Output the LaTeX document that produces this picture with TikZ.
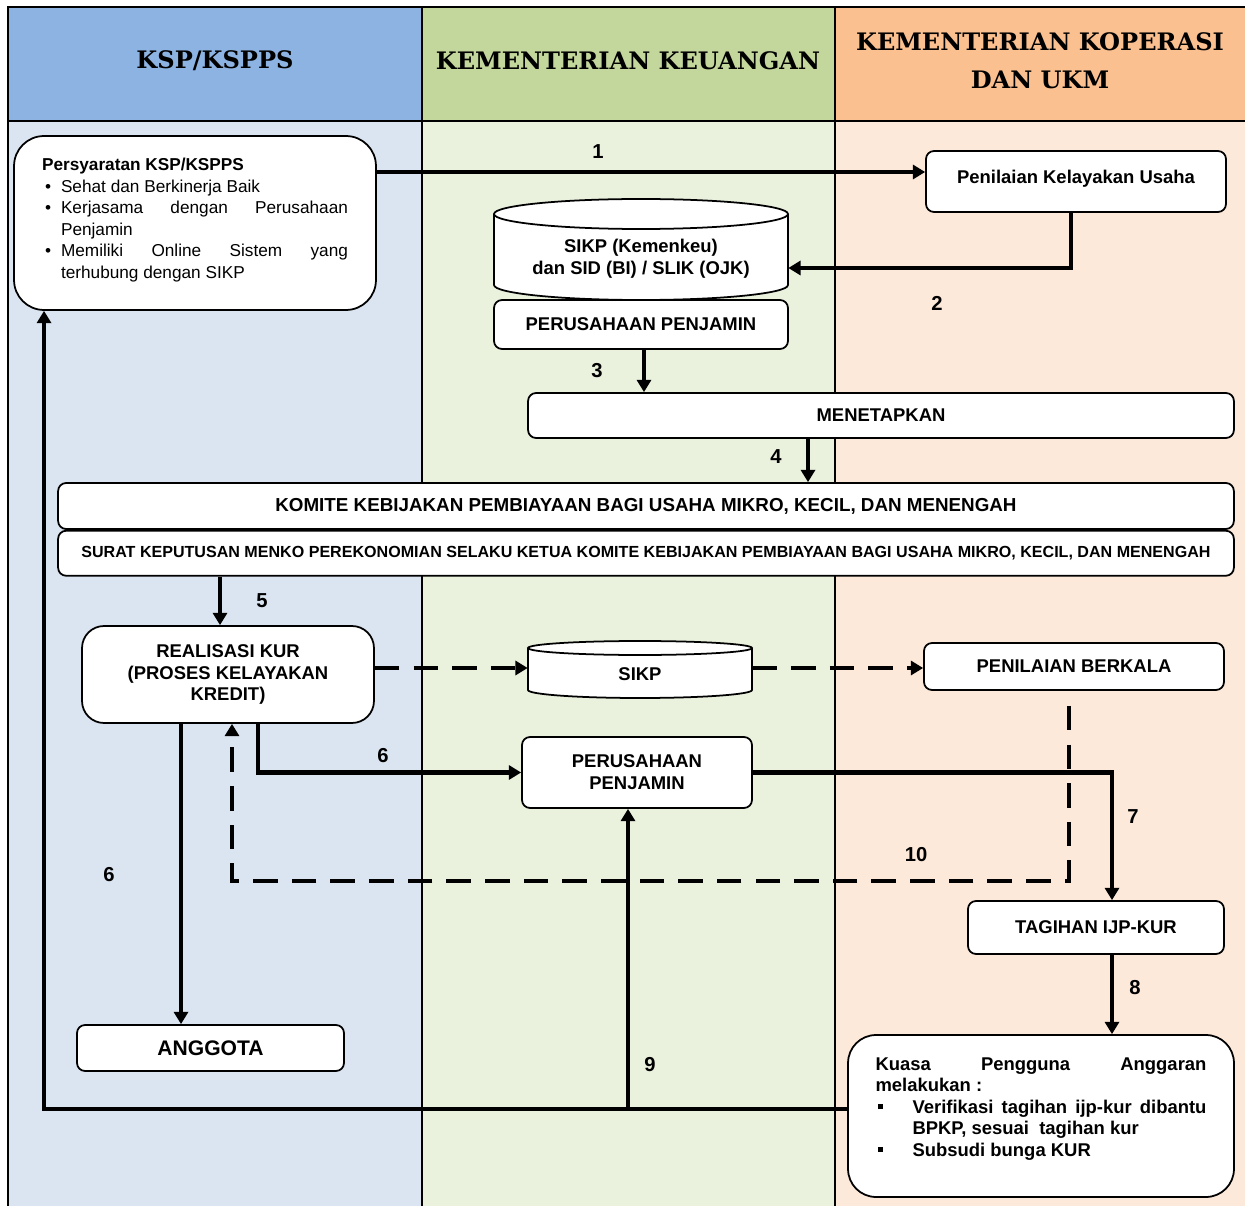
\documentclass[tikz,border=0pt]{standalone}
\usepackage{fontspec}
\setmainfont{Liberation Sans}
\newfontfamily\headfont{DejaVu Serif}
\usetikzlibrary{arrows.meta, positioning, calc}

\definecolor{headblue}{HTML}{8DB3E2}
\definecolor{headgreen}{HTML}{C3D69B}
\definecolor{headorange}{HTML}{FAC090}
\definecolor{laneblue}{HTML}{DBE5F1}
\definecolor{lanegreen}{HTML}{EAF1DD}
\definecolor{laneorange}{HTML}{FDE9D9}

\setlength\parindent{0pt}
\newcommand\reqitem{\hangindent=0.38cm\hangafter=1\noindent\makebox[0.38cm][l]{\hspace{0.06cm}\textbullet}}
\newcommand\kpaitem{\hangindent=0.74cm\hangafter=1\noindent\makebox[0.74cm][l]{\hspace{0.04cm}\rule[0.22em]{0.1cm}{0.1cm}}}

\begin{document}
\begin{tikzpicture}[
        x=0.02cm, y=-0.02cm,
        box/.style={draw, line width=1pt, rounded corners=0.16cm, fill=white, align=center,
            inner sep=2pt, font=\fontsize{10.5}{12.5}\selectfont\bfseries},
        num/.style={font=\fontsize{11.5}{13}\selectfont\bfseries},
        head/.style={align=center, font=\headfont\fontsize{13.7}{21.5}\selectfont\bfseries},
        flow/.style={line width=2.3pt, -{Triangle[length=7pt,width=8pt]}},
        dflow/.style={flow, dash pattern=on 14pt off 8pt}
    ]
    \useasboundingbox (0,0) rectangle (1245,1206);

    % swim lanes
    \fill[headblue] (8,7) rectangle (422,121);
    \fill[headgreen] (422,7) rectangle (835,121);
    \fill[headorange] (835,7) rectangle (1245,121);
    \fill[laneblue] (8,121) rectangle (422,1206);
    \fill[lanegreen] (422,121) rectangle (835,1206);
    \fill[laneorange] (835,121) rectangle (1245,1206);
    \draw[line width=1.5pt] (8,1206) -- (8,7) -- (1245,7);
    \draw[line width=1.5pt] (8,121) -- (1245,121);
    \draw[line width=1pt] (422,7) -- (422,1206);
    \draw[line width=1pt] (835,7) -- (835,1206);

    \node[head] (hksp) at (215,61) {KSP/KSPPS};
    \node[head] (hkeu) at (628,61) {KEMENTERIAN KEUANGAN};
    \node[head] (hkop) at (1040,61) {KEMENTERIAN KOPERASI\\DAN UKM};

    % databases
    \draw[line width=1pt, fill=white] (494,214) -- (494,285)
        arc[start angle=180, end angle=0, x radius=147, y radius=15] -- (788,214);
    \draw[line width=1pt, fill=white] (641,214) ellipse [x radius=147, y radius=15];
    \draw[line width=1pt, fill=white] (528,648) -- (528,690)
        arc[start angle=180, end angle=0, x radius=112, y radius=8] -- (752,648);
    \draw[line width=1pt, fill=white] (640,648) ellipse [x radius=112, y radius=7];

    % boxes
    \node[box, rounded corners=0.6cm, minimum width=7.24cm, minimum height=3.48cm] (req) at (195,223) {};
    \node[text width=6.12cm, align=justify, font=\fontsize{9.8}{12.2}\selectfont] (reqtext) at (195,220) {%
        \textbf{Persyaratan KSP/KSPPS}\par
        \reqitem Sehat dan Berkinerja Baik\par
        \reqitem Kerjasama dengan Perusahaan\linebreak Penjamin\par
        \reqitem Memiliki Online Sistem yang\linebreak terhubung dengan SIKP\par};
    \node[box, minimum width=6cm, minimum height=1.22cm, text depth=0.2cm] (kelayakan) at (1076,181.5) {Penilaian Kelayakan Usaha};
    \node[align=center, font=\fontsize{10.5}{12.5}\selectfont\bfseries, minimum width=5.88cm] (sikpdb) at (641,259) {SIKP (Kemenkeu)\\dan SID (BI) / SLIK (OJK)};
    \node[box, minimum width=5.88cm, minimum height=0.98cm] (pp1) at (641,324.5) {PERUSAHAAN PENJAMIN};
    \node[box, minimum width=14.12cm, minimum height=0.9cm] (menetapkan) at (881,415.5) {MENETAPKAN};
    \node[box, minimum width=23.52cm, minimum height=0.92cm, font=\fontsize{10.7}{12}\selectfont\bfseries] (komite) at (646,506) {KOMITE KEBIJAKAN PEMBIAYAAN BAGI USAHA MIKRO, KECIL, DAN MENENGAH};
    \node[box, minimum width=23.52cm, minimum height=0.9cm, font=\fontsize{9.15}{10}\selectfont\bfseries, below=0pt of komite] (surat) {SURAT KEPUTUSAN MENKO PEREKONOMIAN SELAKU KETUA KOMITE KEBIJAKAN PEMBIAYAAN BAGI USAHA MIKRO, KECIL, DAN MENENGAH};
    \node[box, rounded corners=0.44cm, minimum width=5.84cm, minimum height=1.94cm] (realisasi) at (228,674.5) {REALISASI KUR\\(PROSES KELAYAKAN\\KREDIT)};
    \node[align=center, font=\fontsize{10.5}{12.5}\selectfont\bfseries, minimum width=4.48cm] (sikp) at (640,674) {SIKP};
    \node[box, minimum width=6cm, minimum height=0.94cm] (berkala) at (1074,666.5) {PENILAIAN BERKALA};
    \node[box, minimum width=4.6cm, minimum height=1.42cm] (pp2) at (637,772.5) {PERUSAHAAN\\PENJAMIN};
    \node[box, minimum width=5.12cm, minimum height=1.06cm] (tagihan) at (1096,927.5) {TAGIHAN IJP-KUR};
    \node[box, minimum width=5.34cm, minimum height=0.92cm, font=\fontsize{12}{14}\selectfont\bfseries] (anggota) at (210.5,1048) {ANGGOTA};
    \node[box, rounded corners=0.56cm, minimum width=7.72cm, minimum height=3.24cm] (kuasa) at (1041,1116) {};
    \node[text width=6.62cm, align=justify, font=\fontsize{10.5}{12.2}\selectfont\bfseries] (kuasatext) at (1041,1109) {%
        Kuasa Pengguna Anggaran\linebreak melakukan :\par
        \kpaitem Verifikasi tagihan ijp-kur dibantu\linebreak BPKP, sesuai\ \ tagihan kur\par
        \kpaitem Subsudi bunga KUR\par};

    % connectors
    \coordinate (a1) at ([yshift=0.19cm]kelayakan.west);
    \draw[flow] (req.east |- a1) -- (a1);
    \draw[flow] ([xshift=-0.1cm]kelayakan.south) |- ([yshift=-0.18cm]sikpdb.east);
    \draw[flow] ([xshift=0.06cm]pp1.south) -- ([xshift=0.06cm]pp1.south |- menetapkan.north);
    \draw[flow] ([xshift=-1.46cm]menetapkan.south) -- ([xshift=-1.46cm]menetapkan.south |- komite.north);
    \draw[flow] ([xshift=-0.16cm]realisasi.north |- surat.south) -- ([xshift=-0.16cm]realisasi.north);
    \coordinate (a6) at ([yshift=0.12cm]sikp.west);
    \draw[dflow] (realisasi.east |- a6) -- (a6);
    \draw[dflow] ([yshift=0.12cm]sikp.east) -- ([yshift=0.12cm]sikp.east -| berkala.west);
    \draw[dflow] ([xshift=-0.1cm,yshift=-0.3cm]berkala.south) -- ++(0,-3.5cm) -| ([xshift=0.08cm]realisasi.south);
    \draw[flow] ([xshift=0.6cm]realisasi.south) |- (pp2.west);
    \draw[flow] ([xshift=-0.94cm]realisasi.south) -- ([xshift=-0.94cm]realisasi.south |- anggota.north);
    \draw[flow] (pp2.east) -| ([xshift=0.32cm]tagihan.north);
    \draw[flow] ([xshift=0.32cm]tagihan.south) -- ([xshift=0.32cm]tagihan.south |- kuasa.north);
    \coordinate (a9) at ([yshift=0.14cm]kuasa.west);
    \draw[flow] (a9) -| ([xshift=-3.02cm]req.south);
    \draw[flow] ([xshift=-0.18cm]pp2.south |- a9) -- ([xshift=-0.18cm]pp2.south);

    % step numbers
    \node[num] (n1) at (598,152) {1};
    \node[num] (n2) at (937,303) {2};
    \node[num] (n3) at (597,371) {3};
    \node[num] (n4) at (776,457) {4};
    \node[num] (n5) at (262,601) {5};
    \node[num] (n6) at (383,756) {6};
    \node[num] (n6b) at (109,875) {6};
    \node[num] (n7) at (1133,817) {7};
    \node[num] (n8) at (1135,988) {8};
    \node[num] (n9) at (650,1065) {9};
    \node[num] (n10) at (916,855) {10};
\end{tikzpicture}
\end{document}
